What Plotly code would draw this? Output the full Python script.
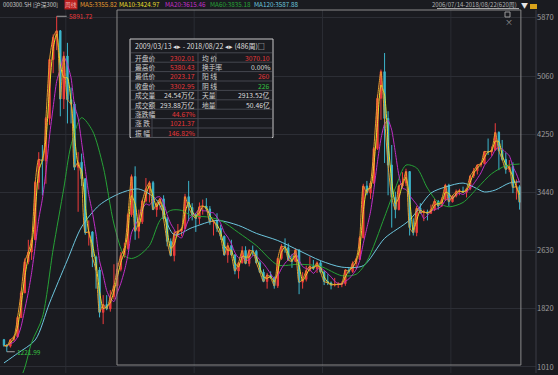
import pandas as pd
import plotly.graph_objects as go

# ---------------- data (monthly candles) ----------------
opens = [1390, 1310, 1300, 1390, 1430, 1700,
         2041, 2475, 2610, 2780, 3580, 3900, 3880, 4470, 5290, 5600, 5690, 4740,
         5338, 4730, 4670, 3790, 3860, 3630, 2880, 2890, 2540, 2360, 1770, 1880,
         1818, 1990, 2140, 2370, 2560, 2660, 3130, 3660, 2900, 3030, 3320, 3490,
         3575, 3200, 3280, 3350, 3070, 2760, 2560, 2870, 2900, 2935, 3380, 3230,
         3130, 3077, 3240, 3250, 3210, 3030, 3044, 2940, 2830, 2570, 2700, 2570,
         2345, 2460, 2630, 2450, 2630, 2620, 2460, 2330, 2200, 2290, 2250, 2140,
         2520, 2690, 2670, 2500, 2480, 2640, 2190, 2230, 2350, 2410, 2380, 2460,
         2330, 2200, 2180, 2150, 2160, 2160, 2170, 2360, 2340, 2450, 2510, 2810,
         3530, 3430, 3570, 4050, 4750, 5120, 4470, 3820, 3370, 3200, 3530, 3570,
         3730, 2950, 2880, 3220, 3160, 3170, 3150, 3200, 3320, 3250, 3340, 3540,
         3310, 3390, 3450, 3460, 3440, 3490, 3670, 3740, 3820, 3840, 4010, 4000,
         4030, 4275, 4020, 3900, 3760, 3800, 3510, 3520]
highs = [1400, 1330, 1400, 1450, 1720, 2070,
         2520, 2780, 2800, 3600, 4000, 4100, 4490, 5290, 5640, 5891.72, 5700, 5400,
         5522, 4900, 4700, 4000, 3980, 3640, 3050, 2900, 2560, 2400, 2010, 2010,
         2080, 2440, 2460, 2610, 2740, 3150, 3690, 3803, 3200, 3340, 3640, 3600,
         3600, 3300, 3360, 3400, 3100, 2800, 2900, 3000, 2950, 3420, 3600, 3290,
         3150, 3300, 3340, 3360, 3250, 3060, 3150, 2990, 2840, 2740, 2780, 2580,
         2470, 2690, 2690, 2650, 2700, 2640, 2490, 2370, 2320, 2340, 2270, 2530,
         2720, 2800, 2730, 2580, 2660, 2640, 2330, 2420, 2550, 2500, 2480, 2490,
         2350, 2300, 2200, 2250, 2190, 2200, 2370, 2400, 2480, 2530, 2830, 3560,
         3600, 3600, 4070, 4800, 5150, 5380.43, 4570, 4100, 3450, 3550, 3720, 3770,
         3730, 3080, 3250, 3290, 3200, 3200, 3270, 3350, 3330, 3370, 3560, 3560,
         3400, 3480, 3490, 3520, 3490, 3670, 3780, 3830, 3860, 4010, 4190, 4080,
         4403, 4290, 4170, 3990, 3890, 3860, 3620, 3540]
lows = [1290, 1221.99, 1280, 1370, 1420, 1690,
        2040, 2440, 2500, 2780, 3480, 3400, 3560, 4380, 5100, 5420, 4500, 4600,
        4400, 4400, 3750, 3170, 3530, 2850, 2700, 2400, 2100, 1700, 1606.73, 1800,
        1780, 1950, 2030, 2340, 2530, 2640, 3100, 2780, 2800, 3000, 3300, 3300,
        3200, 3100, 3200, 3070, 2690, 2550, 2480, 2820, 2830, 2930, 3040, 3050,
        2890, 3000, 3130, 3180, 2990, 2840, 2890, 2780, 2560, 2460, 2560, 2300,
        2240, 2450, 2440, 2410, 2560, 2450, 2320, 2190, 2100, 2240, 2100, 2110,
        2500, 2600, 2490, 2390, 2470, 2023.17, 2100, 2200, 2340, 2360, 2320, 2320,
        2150, 2150, 2090, 2130, 2110, 2120, 2140, 2310, 2320, 2380, 2500, 2800,
        3400, 3350, 3560, 4030, 4450, 3850, 3400, 2950, 3080, 3190, 3500, 3530,
        2840, 2840, 2830, 3140, 3040, 3050, 3140, 3180, 3200, 3240, 3320, 3250,
        3300, 3370, 3400, 3430, 3370, 3470, 3640, 3690, 3790, 3830, 3960, 3950,
        4020, 3750, 3880, 3700, 3720, 3430, 3340, 3200]
closes = [1310, 1300, 1390, 1430, 1700, 2041,
          2475, 2610, 2780, 3580, 3900, 3880, 4470, 5290, 5600, 5690, 4740, 5338,
          4730, 4670, 3790, 3860, 3630, 2880, 2890, 2540, 2360, 1770, 1880, 1818,
          1990, 2140, 2370, 2560, 2660, 3130, 3660, 2900, 3030, 3320, 3490, 3575,
          3200, 3280, 3350, 3070, 2760, 2560, 2870, 2900, 2935, 3380, 3230, 3130,
          3077, 3240, 3250, 3210, 3030, 3044, 2940, 2830, 2570, 2700, 2570, 2345,
          2460, 2630, 2450, 2630, 2620, 2460, 2330, 2200, 2290, 2250, 2140, 2520,
          2690, 2670, 2500, 2480, 2640, 2190, 2230, 2350, 2410, 2380, 2460, 2330,
          2200, 2180, 2150, 2160, 2160, 2170, 2360, 2340, 2450, 2510, 2810, 3530,
          3430, 3570, 4050, 4750, 5120, 4470, 3820, 3370, 3200, 3530, 3570, 3730,
          2950, 2880, 3220, 3160, 3170, 3150, 3200, 3320, 3250, 3340, 3540, 3310,
          3390, 3450, 3460, 3440, 3490, 3670, 3740, 3820, 3840, 4010, 4000, 4030,
          4275, 4020, 3900, 3760, 3800, 3510, 3520, 3302.95]

ma60_dates = ["2006-07-22", "2006-12-15", "2007-03-15", "2007-06-15", "2007-09-15", "2007-12-15",
              "2008-02-15", "2008-05-15", "2008-08-15", "2008-11-15", "2009-02-15", "2009-05-15",
              "2009-07-15", "2009-09-15", "2009-12-15", "2010-03-15", "2010-06-15", "2010-09-15",
              "2010-12-15", "2011-04-15", "2011-08-15", "2012-01-15", "2012-06-15", "2012-12-15",
              "2013-06-15", "2013-12-15", "2014-06-15", "2014-10-15", "2015-01-15", "2015-06-15",
              "2015-09-15", "2015-12-15", "2016-03-15", "2016-06-15", "2016-09-15", "2016-12-15",
              "2017-04-15", "2017-08-15", "2017-12-15", "2018-04-15", "2018-08-11"]
ma60_vals = [700, 880, 1350, 1700, 2650, 3500, 4100, 4480, 4300, 3800,
             3000, 2560, 2520, 2560, 2700, 3050, 3190, 3190, 3110, 3100,
             3050, 2880, 2700, 2430, 2440, 2410, 2280, 2300, 2480, 3100,
             3500, 3820, 3780, 3500, 3300, 3240, 3300, 3500, 3700, 3810, 3835.18]

ma120_dates = ["2006-07-22", "2006-11-15", "2007-04-15", "2007-08-15", "2008-01-15", "2008-05-15",
               "2008-10-15", "2009-04-15", "2009-09-15", "2010-02-15", "2010-07-15", "2010-12-15",
               "2011-07-15", "2012-01-15", "2012-06-15", "2012-12-15", "2013-06-15", "2013-12-15",
               "2014-06-15", "2014-12-15", "2015-06-15", "2016-01-15", "2016-07-15", "2016-11-15",
               "2017-04-15", "2017-07-15", "2017-10-15", "2018-01-15", "2018-05-15", "2018-08-11"]
ma120_vals = [1066, 1200, 1386, 1900, 2500, 2960, 3265, 3432, 3487, 3334,
              2850, 2950, 3050, 2980, 2870, 2770, 2630, 2490, 2400, 2420,
              2800, 3056, 3430, 3515, 3570, 3515, 3446, 3473, 3570, 3587.88]

y_ticks = [1010, 1820, 2630, 3440, 4250, 5060, 5870]

header_items = [("000300.SH [沪深300]", "#c8c8c8"), ("MA5:3355.82", "#e39a2e"),
                ("MA10:3424.97", "#e6de2a"), ("MA20:3615.46", "#c22ec8"),
                ("MA60:3835.18", "#26a236"), ("MA120:3587.88", "#6cc6de")]
range_text = "2006/07/14-2018/08/22(620周)"
box_header = "2009/03/13 ◂▸ - 2018/08/22 ◂▸ (486周)□"
box_labels1 = ["开盘价", "最高价", "最低价", "收盘价", "成交量", "成交额", "涨跌幅", "涨 跌", "振 幅"]
box_values1 = ["2302.01", "5380.43", "2023.17", "3302.95", "24.54万亿", "293.88万亿", "44.67%", "1021.37", "146.82%"]
box_colors1 = ["r", "r", "r", "r", "w", "w", "r", "r", "r"]
box_labels2 = ["均 价", "换手率", "阳 线", "阴 线", "天量", "地量"]
box_values2 = ["3070.10", "0.00%", "260", "226", "2913.52亿", "50.46亿"]
box_colors2 = ["r", "w", "r", "g", "w", "w"]

# ---------------- layout helpers ----------------
W, H = 558, 375
LM, RM, TM, BM = 0, 22, 10, 2
PW, PH = W - LM - RM, H - TM - BM
def px(x): return (x - LM) / PW
def py(y): return 1 - (y - TM) / PH

BG = "#1a1b20"
RED, WHITE, GREEN = "#e8383a", "#dedede", "#36c040"
CMAP = {"r": RED, "w": WHITE, "g": GREEN}
FONT = "Noto Sans CJK SC, Noto Sans, sans-serif"

months = pd.date_range("2006-07-01", periods=len(closes), freq="MS")
dates = [m + pd.Timedelta(days=14) for m in months]
dates[0] = pd.Timestamp("2006-07-22")
dates[-1] = pd.Timestamp("2018-08-11")

close_s = pd.Series(closes)
ma5 = close_s
ma10 = close_s.rolling(2, min_periods=1).mean()
ma20 = close_s.rolling(5, min_periods=1).mean()

fig = go.Figure()
fig.add_trace(go.Candlestick(
    x=dates, open=opens, high=highs, low=lows, close=closes,
    increasing=dict(line=dict(color="#f03c3c", width=1), fillcolor="#f03c3c"),
    decreasing=dict(line=dict(color="#3cb6cc", width=1), fillcolor="#3cb6cc"),
    whiskerwidth=0, showlegend=False, hoverinfo="skip"))
fig.add_trace(go.Scatter(x=ma120_dates, y=ma120_vals, mode="lines",
                         line=dict(color="#6cc6de", width=1, shape="spline", smoothing=0.8),
                         hoverinfo="skip", showlegend=False))
fig.add_trace(go.Scatter(x=ma60_dates, y=ma60_vals, mode="lines",
                         line=dict(color="#26a236", width=1, shape="spline", smoothing=0.8),
                         hoverinfo="skip", showlegend=False))
fig.add_trace(go.Scatter(x=dates, y=ma20, mode="lines",
                         line=dict(color="#c22ec8", width=1, shape="spline", smoothing=0.6),
                         hoverinfo="skip", showlegend=False))
fig.add_trace(go.Scatter(x=dates, y=ma10, mode="lines",
                         line=dict(color="#e6de2a", width=1, shape="spline", smoothing=0.6),
                         hoverinfo="skip", showlegend=False))
fig.add_trace(go.Scatter(x=dates, y=ma5, mode="lines",
                         line=dict(color="#e39a2e", width=1, shape="spline", smoothing=0.6),
                         hoverinfo="skip", showlegend=False))

shapes = []
annotations = []

# vertical faint grid
for d in ["2008-01-01", "2011-01-01", "2014-01-01", "2017-01-01"]:
    shapes.append(dict(type="line", xref="x", yref="paper", x0=d, x1=d, y0=0, y1=1,
                       line=dict(color="#2a2c33", width=1), layer="below"))
# right border of plot
shapes.append(dict(type="line", xref="paper", yref="paper", x0=1, x1=1, y0=0, y1=1,
                   line=dict(color="#3a3c44", width=1)))
# selection rectangle
shapes.append(dict(type="rect", xref="x", yref="paper", x0="2009-03-13", x1="2018-08-22",
                   y0=py(365), y1=py(10), line=dict(color="#8a8a8a", width=1)))
# small window icons
shapes.append(dict(type="rect", xref="paper", yref="paper", x0=px(505), x1=px(510),
                   y0=py(17), y1=py(12), line=dict(color="#9a9a9a", width=1)))
annotations.append(dict(x=px(515), y=py(14.5), xref="paper", yref="paper", text="×",
                        showarrow=False, font=dict(color="#9a9a9a", size=8, family=FONT)))

# info box
bx0, bx1, by0, by1 = 130, 273, 39, 137.5
shapes.append(dict(type="rect", xref="paper", yref="paper", x0=px(bx0), x1=px(bx1),
                   y0=py(by1), y1=py(by0), line=dict(color="#c8c8c8", width=1), fillcolor=BG))
row0, dy = 57.5, 9.4
for k in range(len(box_labels1) + 1):
    yl = row0 - dy / 2 + k * dy
    shapes.append(dict(type="line", xref="paper", yref="paper", x0=px(bx0 + 1), x1=px(bx1 - 1),
                       y0=py(yl), y1=py(yl), line=dict(color="#45474f", width=1)))
for xv, nrows in [(152, 9), (198, 9), (216, 6)]:
    shapes.append(dict(type="line", xref="paper", yref="paper", x0=px(xv), x1=px(xv),
                       y0=py(row0 - dy / 2), y1=py(row0 - dy / 2 + nrows * dy),
                       line=dict(color="#45474f", width=1)))
annotations.append(dict(x=px(133), y=py(46), xref="paper", yref="paper", text=box_header,
                        showarrow=False, xanchor="left", yanchor="middle",
                        font=dict(color=WHITE, size=7, family=FONT)))
for k, (lab, val, c) in enumerate(zip(box_labels1, box_values1, box_colors1)):
    yy = py(row0 + k * dy)
    annotations.append(dict(x=px(133), y=yy, xref="paper", yref="paper", text=lab,
                            showarrow=False, xanchor="left", yanchor="middle",
                            font=dict(color="#cfcfcf", size=6.8, family=FONT)))
    annotations.append(dict(x=px(197), y=yy, xref="paper", yref="paper", text=val,
                            showarrow=False, xanchor="right", yanchor="middle",
                            font=dict(color=CMAP[c], size=6.8, family=FONT)))
for k, (lab, val, c) in enumerate(zip(box_labels2, box_values2, box_colors2)):
    yy = py(row0 + k * dy)
    annotations.append(dict(x=px(200), y=yy, xref="paper", yref="paper", text=lab,
                            showarrow=False, xanchor="left", yanchor="middle",
                            font=dict(color="#cfcfcf", size=6.8, family=FONT)))
    annotations.append(dict(x=px(272), y=yy, xref="paper", yref="paper", text=val,
                            showarrow=False, xanchor="right", yanchor="middle",
                            font=dict(color=CMAP[c], size=6.8, family=FONT)))

# header bar
hx = [1, 78, 117, 163, 208, 252]
hs = [5.8, 6.3, 6.3, 6.3, 6.3, 6.3]
for (txt, col), x0, s in zip(header_items, hx, hs):
    annotations.append(dict(x=px(x0), y=py(5), xref="paper", yref="paper", text=txt,
                            showarrow=False, xanchor="left", yanchor="middle",
                            font=dict(color=col, size=s, family=FONT)))
annotations.append(dict(x=px(64), y=py(5), xref="paper", yref="paper", text="周线",
                        showarrow=False, xanchor="left", yanchor="middle", bgcolor="#b81e1e",
                        borderpad=0, font=dict(color="#f0b0b0", size=5.8, family=FONT)))
annotations.append(dict(x=px(519), y=py(5), xref="paper", yref="paper", text=range_text,
                        showarrow=False, xanchor="right", yanchor="middle",
                        font=dict(color="#b4b4b4", size=6, family=FONT)))
shapes.append(dict(type="line", xref="paper", yref="paper", x0=px(437), x1=px(519),
                   y0=py(8.6), y1=py(8.6), line=dict(color="#b4b4b4", width=1)))
annotations.append(dict(x=px(524), y=py(5), xref="paper", yref="paper", text="▼",
                        showarrow=False, xanchor="center", yanchor="middle",
                        font=dict(color="#e6e6e6", size=7, family=FONT)))
shapes.append(dict(type="rect", xref="paper", yref="paper", x0=px(530), x1=px(537),
                   y0=py(9), y1=py(4), line=dict(width=0), fillcolor="#d8a21a"))

# extreme labels
annotations.append(dict(x=dates[15], y=5891.72, xref="x", yref="y", text="5891.72",
                        showarrow=True, ax=10, ay=0, arrowhead=0, arrowwidth=1,
                        arrowcolor="#a0a0a0", xanchor="left", yanchor="middle",
                        font=dict(color=RED, size=6.5, family=FONT)))
annotations.append(dict(x=dates[1], y=1221.99, xref="x", yref="y", text="1221.99",
                        showarrow=True, ax=8, ay=0, arrowhead=0, arrowwidth=1,
                        arrowcolor="#a0a0a0", xanchor="left", yanchor="middle",
                        font=dict(color=GREEN, size=6.5, family=FONT)))

fig.update_layout(
    width=W, height=H, margin=dict(l=LM, r=RM, t=TM, b=BM),
    paper_bgcolor=BG, plot_bgcolor=BG,
    shapes=shapes, annotations=annotations, showlegend=False,
    xaxis=dict(type="date", range=["2006-06-18", "2018-12-29"], showticklabels=False,
               showgrid=False, zeroline=False, rangeslider=dict(visible=False), fixedrange=True),
    yaxis=dict(side="right", range=[926, 5979], tickvals=y_ticks, ticks="",
               tickfont=dict(color="#9c9c9c", size=7.5, family=FONT),
               gridcolor="#2c2e35", gridwidth=1, zeroline=False, showline=False),
)
fig.write_html("out.html")
